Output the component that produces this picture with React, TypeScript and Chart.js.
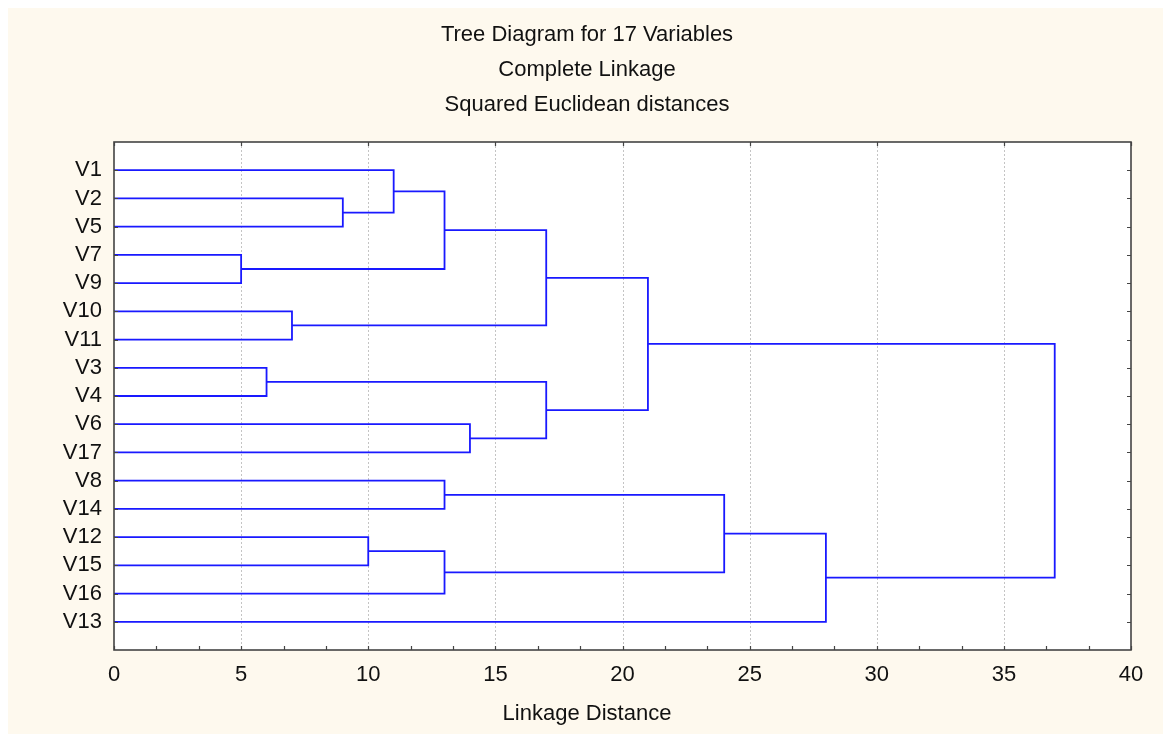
import React, { useEffect, useRef } from "react";
import { Chart, registerables } from "chart.js";

Chart.register(...registerables);

// ---- data ----
const titleLines = ["Tree Diagram for 17 Variables", "Complete Linkage", "Squared Euclidean distances"];
const xAxisTitle = "Linkage Distance";
const leaves = ["V1", "V2", "V5", "V7", "V9", "V10", "V11", "V3", "V4", "V6", "V17", "V8", "V14", "V12", "V15", "V16", "V13"];
// cluster Ck is formed by merge k (1-based)
const mergeLeft = ["V2", "V1", "V7", "C2", "V10", "C4", "V3", "V6", "C7", "C6", "V8", "V12", "C12", "C11", "C14", "C10"];
const mergeRight = ["V5", "C1", "V9", "C3", "V11", "C5", "V4", "V17", "C8", "C9", "V14", "V15", "V16", "C13", "V13", "C15"];
const mergeDistance = [9, 11, 5, 13, 7, 17, 6, 14, 17, 21, 13, 10, 13, 24, 28, 37];
const xMin = 0;
const xMax = 40;
const xStep = 5;

// ---- style ----
const FONT = "'Liberation Sans', Arial, sans-serif";
const LINE_COLOR = "rgb(25,25,255)";
const FRAME_COLOR = "#444444";
const GRID_COLOR = "#c4c4c4";
const TEXT_COLOR = "#111111";
const X_MINOR_PER_MAJOR = 3;
const TICK_LEN = 4;

function buildDatasets() {
  const pos: Record<string, { x: number; y: number }> = {};
  leaves.forEach((name, i) => {
    pos[name] = { x: 0, y: i + 1 };
  });
  const sets: any[] = [];
  mergeDistance.forEach((d, k) => {
    const a = pos[mergeLeft[k]];
    const b = pos[mergeRight[k]];
    sets.push({
      data: [
        { x: a.x, y: a.y },
        { x: d, y: a.y },
        { x: d, y: b.y },
        { x: b.x, y: b.y },
      ],
      showLine: true,
      borderColor: LINE_COLOR,
      borderWidth: 1.8,
      pointRadius: 0,
      pointHoverRadius: 0,
      fill: false,
      tension: 0,
    });
    pos["C" + (k + 1)] = { x: d, y: (a.y + b.y) / 2 };
  });
  return sets;
}

const framePlugin = {
  id: "dendroFrame",
  beforeDraw(chart: any) {
    const { ctx, chartArea } = chart;
    const { left, top, right, bottom } = chartArea;
    ctx.save();
    ctx.fillStyle = "#ffffff";
    ctx.fillRect(left, top, right - left, bottom - top);
    const x = chart.scales.x;
    ctx.strokeStyle = GRID_COLOR;
    ctx.lineWidth = 1;
    ctx.setLineDash([2, 2]);
    x.ticks.forEach((t: any) => {
      if (t.value <= xMin || t.value >= xMax) return;
      const px = Math.round(x.getPixelForValue(t.value)) + 0.5;
      ctx.beginPath();
      ctx.moveTo(px, top);
      ctx.lineTo(px, bottom);
      ctx.stroke();
    });
    ctx.restore();
  },
  afterDatasetsDraw(chart: any) {
    const { ctx, chartArea } = chart;
    const { left, top, right, bottom } = chartArea;
    const x = chart.scales.x;
    const y = chart.scales.y;
    ctx.save();
    ctx.strokeStyle = FRAME_COLOR;
    ctx.lineWidth = 1.6;
    ctx.setLineDash([]);
    ctx.strokeRect(left, top, right - left, bottom - top);
    ctx.lineWidth = 1.2;
    ctx.beginPath();
    // y ticks, inward on both sides
    y.ticks.forEach((t: any) => {
      const py = Math.round(y.getPixelForValue(t.value)) + 0.5;
      ctx.moveTo(left, py);
      ctx.lineTo(left + TICK_LEN, py);
      ctx.moveTo(right, py);
      ctx.lineTo(right - TICK_LEN, py);
    });
    // top major ticks
    x.ticks.forEach((t: any) => {
      const px = Math.round(x.getPixelForValue(t.value)) + 0.5;
      ctx.moveTo(px, top);
      ctx.lineTo(px, top + TICK_LEN);
    });
    // bottom major + minor ticks
    const n = ((xMax - xMin) / xStep) * X_MINOR_PER_MAJOR;
    for (let k = 0; k <= n; k++) {
      const v = xMin + (k * xStep) / X_MINOR_PER_MAJOR;
      const px = Math.round(x.getPixelForValue(v)) + 0.5;
      ctx.moveTo(px, bottom);
      ctx.lineTo(px, bottom - TICK_LEN);
    }
    ctx.stroke();
    ctx.restore();
  },
};

export default function App() {
  const canvasRef = useRef<HTMLCanvasElement | null>(null);

  useEffect(() => {
    if (!canvasRef.current) return;
    Chart.defaults.font.family = FONT;
    const chart = new Chart(canvasRef.current, {
      type: "scatter",
      data: { datasets: buildDatasets() },
      options: {
        responsive: false,
        animation: false,
        devicePixelRatio: 1,
        events: [],
        layout: { padding: { left: 3, right: 0, top: 0, bottom: 0 } },
        plugins: {
          legend: { display: false },
          tooltip: { enabled: false },
          title: {
            display: true,
            text: titleLines,
            color: TEXT_COLOR,
            font: { size: 22, weight: "normal", family: FONT, lineHeight: 35 / 22 },
            padding: { top: 9.4, bottom: 19.6 },
          },
          subtitle: {
            display: true,
            position: "bottom",
            text: xAxisTitle,
            color: TEXT_COLOR,
            font: { size: 22, weight: "normal", family: FONT, lineHeight: 1.2 },
            padding: { top: 4, bottom: 6.6 },
          },
        },
        scales: {
          x: {
            type: "linear",
            position: "bottom",
            min: xMin,
            max: xMax,
            grid: { display: false, drawTicks: false },
            border: { display: false },
            ticks: {
              stepSize: xStep,
              color: TEXT_COLOR,
              padding: 12,
              maxRotation: 0,
              autoSkip: false,
              font: { size: 22, family: FONT },
            },
            afterFit: (s: any) => {
              s.height = 47;
            },
          },
          y: {
            type: "linear",
            position: "left",
            min: 0,
            max: leaves.length + 1,
            reverse: true,
            grid: { display: false, drawTicks: false },
            border: { display: false },
            afterBuildTicks: (s: any) => {
              s.ticks = leaves.map((_, i) => ({ value: i + 1 }));
            },
            ticks: {
              color: TEXT_COLOR,
              padding: 12,
              autoSkip: false,
              font: { size: 22, family: FONT },
              callback: (v: any) => leaves[Number(v) - 1] ?? "",
            },
            afterFit: (s: any) => {
              s.width = 103;
            },
          },
          yRight: {
            type: "linear",
            position: "right",
            display: true,
            grid: { display: false, drawTicks: false },
            border: { display: false },
            ticks: { display: false },
            afterFit: (s: any) => {
              s.width = 32;
            },
          },
        },
      },
      plugins: [framePlugin],
    } as any);
    return () => chart.destroy();
  }, []);

  return (
    <div
      style={{
        position: "fixed",
        left: 8,
        top: 8,
        width: 1155,
        height: 726,
        background: "#fef9ee",
        overflow: "hidden",
      }}
    >
      <canvas ref={canvasRef} width={1155} height={726} style={{ display: "block", width: 1155, height: 726 }} />
    </div>
  );
}
